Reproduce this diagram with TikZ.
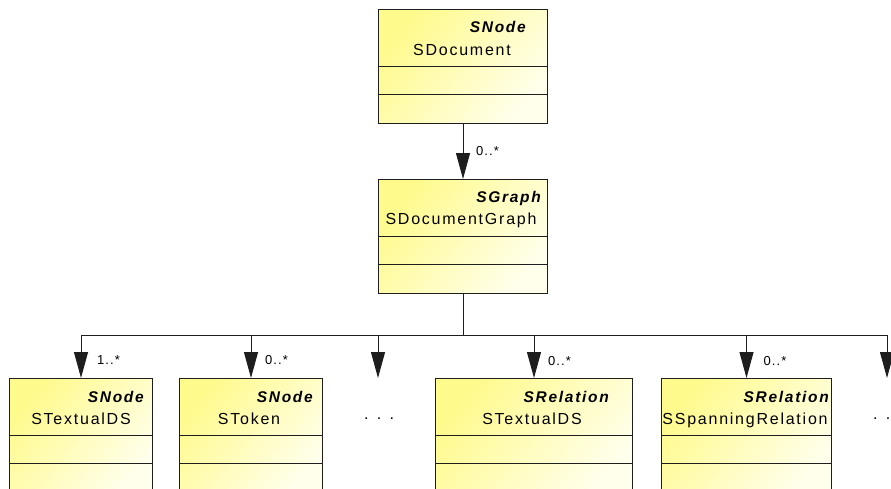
\documentclass[tikz,border=0pt]{standalone}
\usepackage{fontspec}
\setmainfont{Liberation Sans}
\newfontfamily\namefont[LetterSpace=11]{Liberation Sans}
\newfontfamily\labfont[LetterSpace=8]{Liberation Sans}
\usetikzlibrary{arrows.meta}
\definecolor{boxyellow}{RGB}{255,250,140}
\definecolor{boxlight}{RGB}{255,255,236}
\definecolor{ink}{RGB}{30,30,30}
\tikzset{
  umlbox/.style={draw=ink, line width=1pt, rectangle, inner sep=0pt,
    minimum height=114pt, anchor=north west,
    top color=boxyellow, bottom color=boxlight, shading angle=50},
  divider/.style={draw=ink, line width=1pt},
  stereo/.style={inner sep=0pt, anchor=base east,
    font=\namefont\fontsize{15.5}{18}\selectfont\bfseries\itshape},
  nametext/.style={inner sep=0pt, anchor=base,
    font=\namefont\fontsize{16}{19}\selectfont},
  mult/.style={inner sep=0pt, anchor=base west,
    font=\labfont\fontsize{13}{15}\selectfont},
  conn/.style={draw=ink, line width=1pt},
  arr/.style={conn, -{Triangle[length=26pt,width=14pt]}},
}
\newcommand{\dividers}[1]{%
  \draw[divider] ([yshift=-57.5pt]#1.north west) -- ([yshift=-57.5pt]#1.north east);
  \draw[divider] ([yshift=-85.5pt]#1.north west) -- ([yshift=-85.5pt]#1.north east);}
\begin{document}
\begin{tikzpicture}[x=1pt,y=-1pt]
\useasboundingbox (0,0) rectangle (891,488);
% boxes
\node[umlbox, minimum width=169pt] (doc) at (378,9) {};
\node[umlbox, minimum width=169pt] (graph) at (378,179) {};
\node[umlbox, minimum width=143pt] (b1) at (9,378) {};
\node[umlbox, minimum width=143pt] (b2) at (179,378) {};
\node[umlbox, minimum width=197pt] (b4) at (435,378) {};
\node[umlbox, minimum width=170pt] (b5) at (661,378) {};
\dividers{doc}
\dividers{graph}
\dividers{b1}
\dividers{b2}
\dividers{b4}
\dividers{b5}
% texts
\node[stereo] (docS) at (526,32) {SNode};
\node[nametext] (docN) at (462,55) {SDocument};
\node[stereo] (graphS) at (541,202) {SGraph};
\node[nametext] (graphN) at (461,224) {SDocumentGraph};
\node[stereo] (b1S) at (144,402) {SNode};
\node[nametext] (b1N) at (81,424) {STextualDS};
\node[stereo] (b2S) at (313,402) {SNode};
\node[nametext] (b2N) at (249,424) {SToken};
\node[stereo] (b4S) at (609,402) {SRelation};
\node[nametext] (b4N) at (532,424) {STextualDS};
\node[stereo] (b5S) at (829,402) {SRelation};
\node[nametext] (b5N) at (745,424) {SSpanningRelation};
% ellipsis
\coordinate (e1) at (378,378);
\coordinate (e2) at (887,378);
\node[nametext, anchor=base] (dots1) at (379,419) {. . .};
\node[nametext, anchor=base] (dots2) at (888,419) {. . .};
% connectors
\draw[arr] (doc.south) -- (graph.north);
\node[mult] (m0) at ([xshift=13pt,yshift=24pt]graph.north) {0..*};
\coordinate (bus) at (graph.south |- 0,335);
\draw[conn] (graph.south) -- (bus);
\draw[arr] (bus) -| (b1.north);
\draw[arr] (bus) -| (b2.north);
\draw[arr] (bus) -| (e1);
\draw[arr] (bus) -| (b4.north);
\draw[arr] (bus) -| (b5.north);
\draw[arr] (bus) -| (e2);
\node[mult] (m1) at ([xshift=16pt,yshift=14pt]b1.north) {1..*};
\node[mult] (m2) at ([xshift=14pt,yshift=14pt]b2.north) {0..*};
\node[mult] (m4) at ([xshift=14pt,yshift=13pt]b4.north) {0..*};
\node[mult] (m5) at ([xshift=17pt,yshift=13pt]b5.north) {0..*};
\end{tikzpicture}
\end{document}
